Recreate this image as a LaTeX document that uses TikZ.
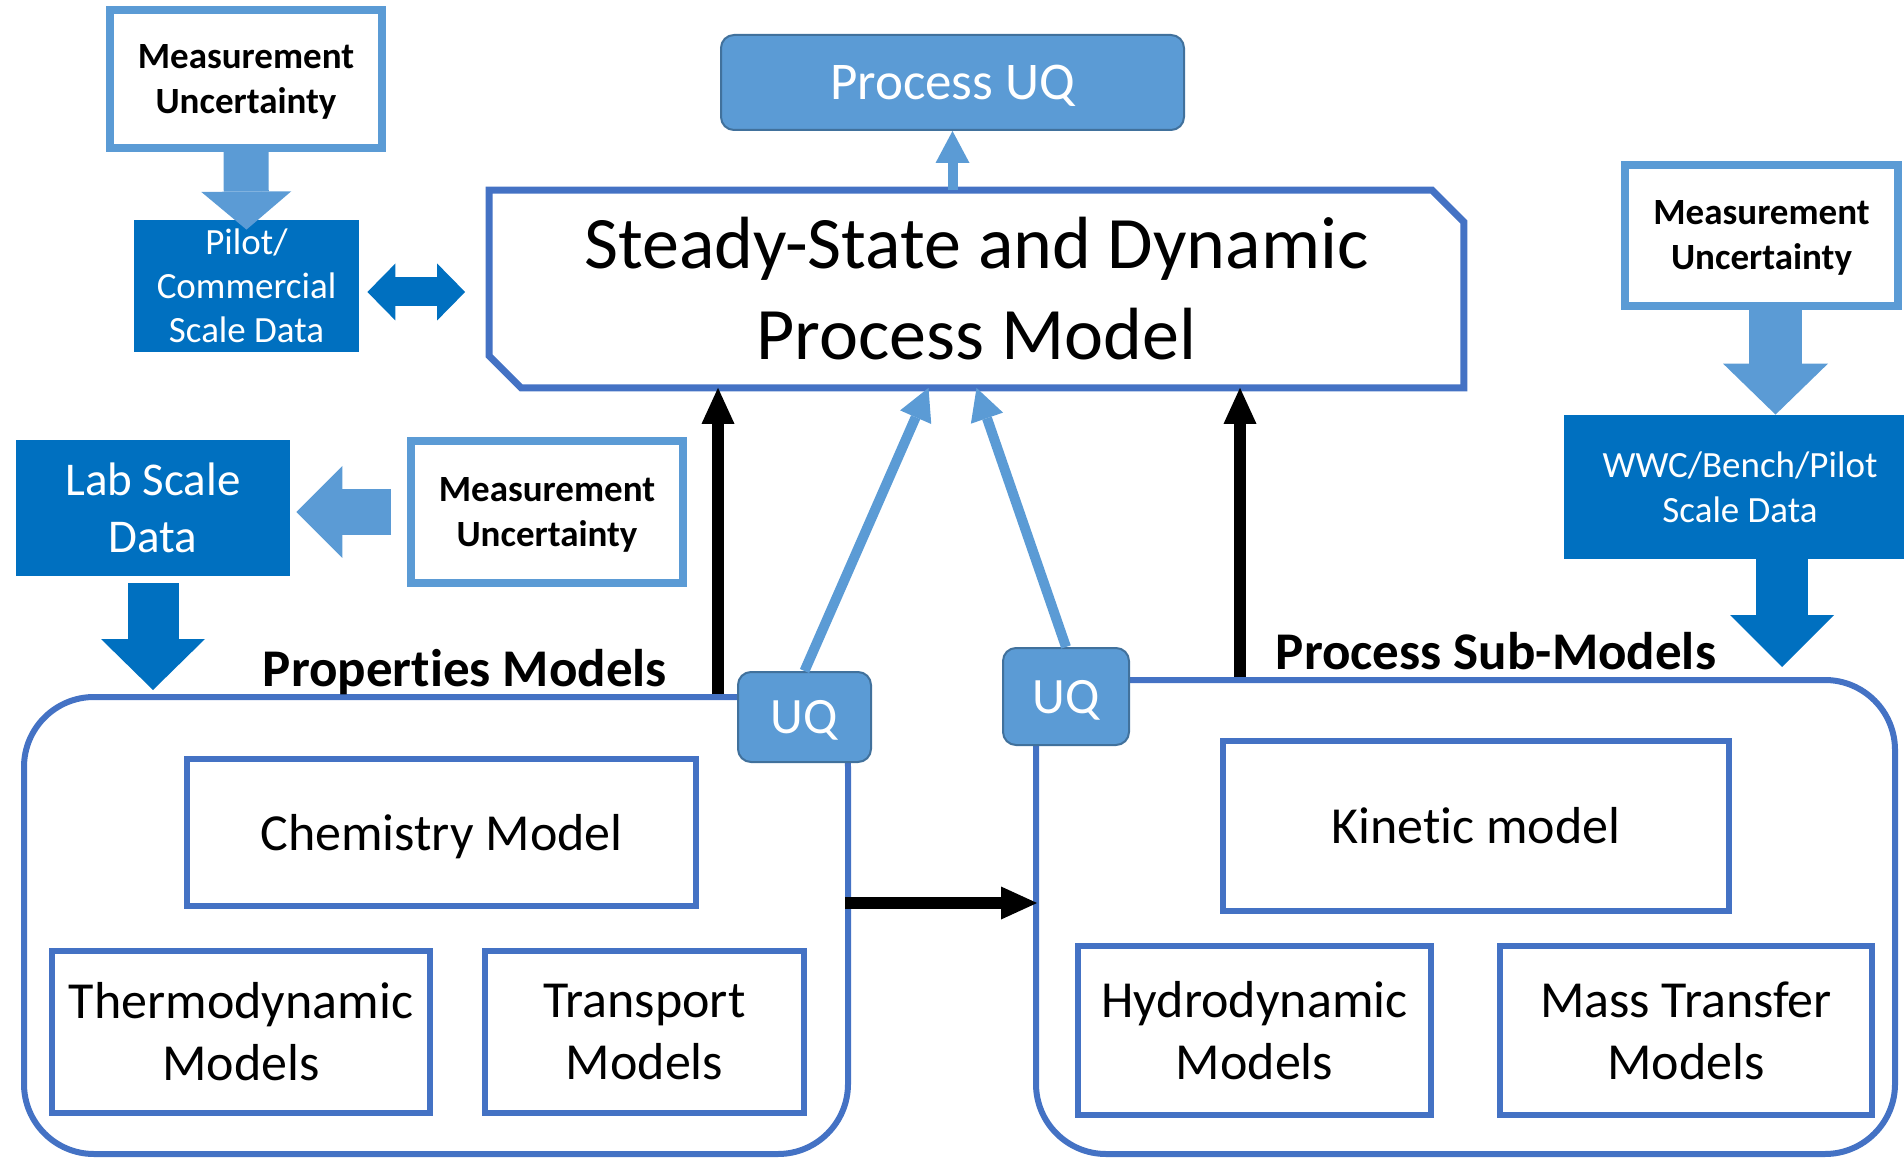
\documentclass[tikz,border=0pt]{standalone}
\usepackage{fontspec}
\setmainfont[Ligatures=NoCommon]{Carlito}
\usetikzlibrary{arrows.meta}
\definecolor{lightblue}{HTML}{5B9BD5}
\definecolor{darkblue}{HTML}{0070C0}
\definecolor{boxblue}{HTML}{4472C4}
\definecolor{uqedge}{HTML}{41719C}

\begin{document}
\begin{tikzpicture}[x=0.5pt,y=-0.5pt,
    mubox/.style={draw=lightblue,line width=4pt,align=center,inner sep=0pt,text depth=0pt,
      font=\fontsize{18.5}{22.5}\selectfont\bfseries},
    databox/.style={fill=darkblue,text=white,align=center,inner sep=0pt},
    modelbox/.style={draw=boxblue,line width=3pt,align=center,inner sep=0pt,
      font=\fontsize{26}{31}\selectfont},
    groupbox/.style={draw=boxblue,line width=3pt,rounded corners=35pt,inner sep=0pt},
    uqbox/.style={draw=uqedge,line width=1pt,fill=lightblue,text=white,text depth=0pt,
      rounded corners=6.5pt,inner sep=0pt},
    grouplabel/.style={anchor=base,inner sep=0pt,font=\fontsize{26.5}{30}\selectfont\bfseries},
    blockarrow/.style n args={3}{line width=#1,-{Triangle[width=#2,length=#3,line width=0pt]}},
    dblarrow/.style={darkblue,line width=14.5pt,
      {Triangle[width=28.5pt,length=14pt,line width=0pt]}-{Triangle[width=28.5pt,length=14pt,line width=0pt]}},
    uqarrow/.style={lightblue,line width=5pt,-{Triangle[width=17pt,length=16pt,line width=0pt]}},
    blkarrow/.style={black,line width=6pt,-{Triangle[width=16.5pt,length=18pt,line width=0pt]}}]
  \useasboundingbox (0,0) rectangle (1904,1159);

  \node[groupbox,minimum width=412pt,minimum height=228.5pt] (lbox) at (436,925.5) {};
  \node[groupbox,minimum width=429.5pt,minimum height=237pt] (rbox) at (1465.5,917) {};
  \node[uqbox,minimum width=66.5pt,minimum height=45pt,font=\fontsize{25.5}{30}\selectfont] (luq) at (804.5,717) {UQ};
  \node[uqbox,minimum width=63pt,minimum height=48.5pt,font=\fontsize{25.5}{30}\selectfont] (ruq) at (1066,696.5) {UQ};

  \node[modelbox,minimum width=254.5pt,minimum height=73.5pt,text depth=0pt] (chem) at (441.5,832.5) {Chemistry Model};
  \node[modelbox,minimum width=189pt,minimum height=81pt] (thermo) at (241,1032) {Thermodynamic\\Models};
  \node[modelbox,minimum width=159.5pt,minimum height=81pt] (transport) at (644.5,1032) {Transport\\Models};
  \node[modelbox,minimum width=253pt,minimum height=85pt] (kinetic) at (1476,826) {Kinetic model};
  \node[modelbox,minimum width=176.5pt,minimum height=84.5pt] (hydro) at (1254.5,1030.5) {Hydrodynamic\\Models};
  \node[modelbox,minimum width=186pt,minimum height=84.5pt] (masstr) at (1686,1030.5) {Mass Transfer\\Models};

  \node[grouplabel] (proplabel) at (465,686) {Properties Models};
  \node[grouplabel] (sublabel) at (1496,669) {Process Sub-Models};

  \node[minimum width=487pt,minimum height=98.5pt,align=center,inner sep=0pt,
    font=\fontsize{37}{45.5}\selectfont] (main) at (976.5,289) {Steady-State and Dynamic\\Process Model};
  \draw[boxblue,line width=3.5pt] (main.north west) -- ([xshift=-16pt]main.north east)
    -- ([yshift=-16pt]main.north east) -- (main.south east)
    -- ([xshift=16pt]main.south west) -- ([yshift=16pt]main.south west) -- cycle;
  \node[uqbox,minimum width=231.5pt,minimum height=47.5pt,font=\fontsize{26.5}{30}\selectfont] (puq) at (952.5,82.5) {Process UQ};

  \node[mubox,minimum width=136pt,minimum height=69pt] (mutl) at (246,79) {Measurement\\Uncertainty};
  \node[databox,minimum width=112.5pt,minimum height=66pt,font=\fontsize{18.5}{22}\selectfont] (pilot) at (246.5,286) {Pilot/\\Commercial\\Scale Data};
  \node[mubox,minimum width=136.5pt,minimum height=70.5pt] (mutr) at (1761.5,235.5) {Measurement\\Uncertainty};
  \node[databox,minimum width=176pt,minimum height=72pt,font=\fontsize{18.5}{22.5}\selectfont] (wwc) at (1740,487) {WWC/Bench/Pilot\\Scale Data};
  \node[databox,minimum width=137pt,minimum height=68pt,font=\fontsize{23.5}{28.5}\selectfont] (lab) at (153,508) {Lab Scale\\Data};
  \node[mubox,minimum width=136pt,minimum height=71pt] (mumid) at (547,512) {Measurement\\Uncertainty};

  \coordinate (colL) at (718,0);
  \coordinate (colR) at (1240,0);
  \coordinate (rowM) at (0,903);

  \draw[lightblue,blockarrow={22.5pt}{45pt}{19pt}] (mutl.south) -- ([yshift=-5pt]pilot.north);
  \draw[lightblue,blockarrow={26.5pt}{52.5pt}{25.5pt}] ([xshift=7pt]mutr.south) -- ([xshift=7pt]mutr.south |- wwc.north);
  \draw[lightblue,blockarrow={23pt}{46pt}{23pt}] ([xshift=-8pt]mumid.west) -- ([xshift=3pt]lab.east |- mumid.west);
  \draw[darkblue,blockarrow={26pt}{52pt}{26pt}] ([xshift=21pt]wwc.south) -- ([xshift=21pt,yshift=5pt]wwc.south |- rbox.north);
  \draw[darkblue,blockarrow={25.5pt}{52pt}{25.5pt}] ([yshift=-3.5pt]lab.south) -- ([yshift=2pt]lab.south |- lbox.north);
  \draw[dblarrow] ([xshift=4pt,yshift=-3pt]pilot.east) -- ([xshift=-12pt,yshift=-3pt]pilot.east -| main.west);

  \draw[uqarrow] (puq.south |- main.north) -- (puq.south);
  \draw[uqarrow] (luq.north) -- ([xshift=-24pt]main.south);
  \draw[uqarrow] (ruq.north) -- (main.south);

  \draw[blkarrow] (colL |- lbox.north) -- (colL |- main.south);
  \draw[blkarrow] (colR |- rbox.north) -- (colR |- main.south);
  \draw[blkarrow] ([xshift=-3pt]rowM -| lbox.east) -- ([xshift=2pt]rowM -| rbox.west);
\end{tikzpicture}
\end{document}
